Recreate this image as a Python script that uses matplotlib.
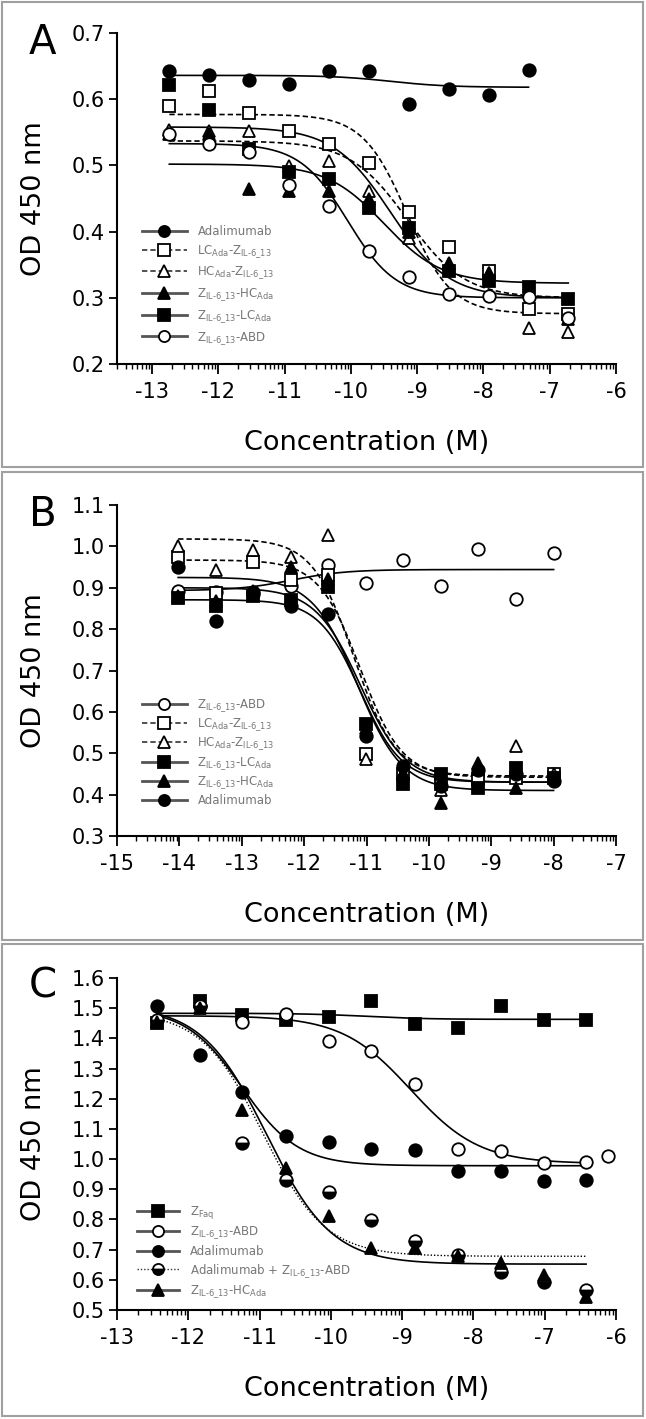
import numpy as np
import matplotlib
matplotlib.use("Agg")
import matplotlib.pyplot as plt
from matplotlib.lines import Line2D
from matplotlib.patches import Rectangle

plt.rcParams['font.family'] = ['DejaVu Sans']
plt.rcParams['axes.unicode_minus'] = False
plt.rcParams['mathtext.default'] = 'regular'

# ---------------- data (log10 concentration, OD 450 nm) ----------------
# panel A
a_x = [-12.74, -12.14, -11.54, -10.93, -10.33, -9.73, -9.13, -8.52, -7.92, -7.32, -6.72]
a_adalimumab = [0.642, 0.636, 0.629, 0.623, 0.643, 0.643, 0.593, 0.616, 0.606, 0.644]
a_lc_z = [0.589, 0.612, 0.579, 0.552, 0.532, 0.504, 0.429, 0.377, 0.341, 0.283, 0.275]
a_hc_z = [0.554, 0.552, 0.552, 0.499, 0.507, 0.462, 0.391, 0.351, 0.338, 0.255, 0.248]
a_z_hc = [0.548, 0.548, 0.465, 0.462, 0.462, 0.450, 0.400, 0.353, 0.338, 0.310, 0.268]
a_z_lc = [0.622, 0.584, 0.525, 0.490, 0.479, 0.436, 0.406, 0.341, 0.326, 0.317, 0.298]
a_z_abd = [0.547, 0.532, 0.520, 0.471, 0.438, 0.370, 0.331, 0.306, 0.303, 0.301, 0.270]
# fitted curves: top, bottom, logEC50, hill
a_fit_adalimumab = (0.636, 0.618, -9.4, 1.0)
a_fit_lc_z = (0.577, 0.276, -9.15, 1.3)
a_fit_hc_z = (0.537, 0.300, -9.15, 1.0)
a_fit_z_hc = (0.502, 0.322, -9.5, 1.0)
a_fit_z_lc = (0.558, 0.300, -9.4, 1.0)
a_fit_z_abd = (0.533, 0.300, -10.05, 1.2)

# panel B
b_x = [-14.02, -13.42, -12.82, -12.21, -11.61, -11.01, -10.41, -9.81, -9.21, -8.60, -8.00]
b_z_abd = [0.891, 0.889, 0.885, 0.905, 0.955, 0.911, 0.967, 0.905, 0.994, 0.873, 0.983]
b_lc_z = [0.974, 0.887, 0.963, 0.919, 0.930, 0.497, 0.449, 0.425, 0.437, 0.441, 0.449]
b_hc_z = [1.000, 0.943, 0.991, 0.974, 1.028, 0.485, 0.452, 0.410, 0.462, 0.517, 0.450]
b_z_lc = [0.875, 0.855, 0.881, 0.871, 0.903, 0.571, 0.425, 0.449, 0.417, 0.465, 0.441]
b_z_hc = [0.880, 0.868, 0.891, 0.951, 0.920, 0.560, 0.452, 0.380, 0.477, 0.417, 0.440]
b_adalimumab = [0.950, 0.820, 0.890, 0.857, 0.836, 0.541, 0.470, 0.420, 0.460, 0.450, 0.433]
b_fit_z_abd = (0.893, 0.944, -12.2, 1.0)
b_fit_lc_z = (0.967, 0.442, -11.1, 1.3)
b_fit_hc_z = (1.018, 0.445, -11.2, 1.3)
b_fit_z_lc = (0.871, 0.430, -11.1, 1.3)
b_fit_z_hc = (0.925, 0.410, -11.15, 1.2)
b_fit_adalimumab = (0.900, 0.430, -11.1, 1.2)

# panel C
c_x = [-12.44, -11.84, -11.24, -10.63, -10.03, -9.43, -8.82, -8.22, -7.62, -7.01, -6.42]
c_zfaq = [1.451, 1.523, 1.478, 1.462, 1.471, 1.525, 1.447, 1.434, 1.506, 1.460, 1.460]
c_z_abd_x = [-11.84, -11.24, -10.63, -10.03, -9.43, -8.82, -8.22, -7.62, -7.01, -6.42, -6.11]
c_z_abd = [1.506, 1.453, 1.482, 1.390, 1.357, 1.248, 1.033, 1.027, 0.986, 0.989, 1.011]
c_adalimumab = [1.506, 1.346, 1.221, 1.075, 1.058, 1.033, 1.031, 0.962, 0.962, 0.929, 0.931]
c_ada_abd = [1.460, 1.506, 1.053, 0.931, 0.892, 0.798, 0.727, 0.682, 0.627, 0.594, 0.566]
c_z_hc = [1.455, 1.500, 1.163, 0.970, 0.810, 0.705, 0.705, 0.680, 0.657, 0.616, 0.544]
c_fit_zfaq = (1.483, 1.463, -9.5, 1.0)
c_fit_z_abd = (1.475, 0.985, -8.88, 0.9)
c_fit_adalimumab = (1.500, 0.978, -11.25, 1.1)
c_fit_ada_abd = (1.490, 0.678, -10.95, 1.0)
c_fit_z_hc = (1.510, 0.652, -10.9, 0.95)

IL = 'IL\u20106\\_13'
lab_ada = 'Adalimumab'
lab_lc_z = 'LC$_{Ada}$-Z$_{' + IL + '}$'
lab_hc_z = 'HC$_{Ada}$-Z$_{' + IL + '}$'
lab_z_hc = 'Z$_{' + IL + '}$-HC$_{Ada}$'
lab_z_lc = 'Z$_{' + IL + '}$-LC$_{Ada}$'
lab_z_abd = 'Z$_{' + IL + '}$-ABD'
lab_zfaq = 'Z$_{Faq}$'
lab_ada_abd = 'Adalimumab + Z$_{' + IL + '}$-ABD'


def fourpl(x, top, bottom, logec50, hill):
    return bottom + (top - bottom) / (1 + 10 ** ((x - logec50) * hill))


DASH = (3.2, 1.8)
DOT = (1.0, 1.4)


def series(ax, x, y, fit, x0, x1, marker, filled, ls='-', fill_style='full'):
    xx = np.linspace(x0, x1, 300)
    kw = dict(color='black', lw=1.2)
    if ls == '--':
        kw['dashes'] = DASH
    elif ls == ':':
        kw['dashes'] = DOT
        kw['lw'] = 1.0
    ax.plot(xx, fourpl(xx, *fit), **kw)
    if fill_style == 'bottom':
        ax.plot(x, y, ls='none', marker=marker, ms=9, mec='black', mew=1.3,
                fillstyle='bottom', mfc='black', markerfacecoloralt='white', zorder=3)
    else:
        ax.plot(x, y, ls='none', marker=marker, ms=9, mec='black', mew=1.3,
                mfc='black' if filled else 'white', zorder=3)


def handle(marker, filled, ls='-', fill_style='full'):
    kw = dict(color='#555555', lw=2.0, marker=marker, ms=8, mec='black', mew=1.3)
    if ls == '--':
        kw.update(dashes=DASH, lw=1.2, color='#333333')
    elif ls == ':':
        kw.update(dashes=DOT, lw=1.0, color='#333333')
    if fill_style == 'bottom':
        kw.update(fillstyle='bottom', mfc='black', markerfacecoloralt='white')
    else:
        kw['mfc'] = 'black' if filled else 'white'
    return Line2D([], [], **kw)


def style_axes(ax, xlim, ylim, yticks, ylabels):
    ax.set_xlim(*xlim)
    ax.set_ylim(*ylim)
    for s in ['top', 'right']:
        ax.spines[s].set_visible(False)
    for s in ['left', 'bottom']:
        ax.spines[s].set_linewidth(1.5)
    major = list(range(int(np.ceil(xlim[0])), int(xlim[1]) + 1))
    minor = []
    for d in range(int(np.floor(xlim[0])), int(xlim[1])):
        for k in range(2, 10):
            v = d + np.log10(k)
            if xlim[0] < v < xlim[1]:
                minor.append(v)
    ax.set_xticks(major)
    ax.set_xticklabels([str(m) for m in major])
    ax.set_xticks(minor, minor=True)
    ax.set_yticks(yticks)
    ax.set_yticklabels(ylabels)
    ax.tick_params(axis='both', which='major', labelsize=15, width=1.3, direction='out')
    ax.tick_params(axis='x', which='major', length=7, pad=6)
    ax.tick_params(axis='y', which='major', length=6, pad=3)
    ax.tick_params(axis='x', which='minor', length=3.5, width=1.0)
    ax.set_xlabel('Concentration (M)', fontsize=19.5)
    ax.set_ylabel('OD 450 nm', fontsize=19.5)
    ax.xaxis.set_label_coords(0.5, -0.2)
    ax.yaxis.set_label_coords(-0.14, 0.5)


def gray_legend(ax, handles, labels, anchor, spacing, hlen=3.8):
    leg = ax.legend(handles, labels, loc='upper left', bbox_to_anchor=anchor,
                    frameon=False, fontsize=8.5, handlelength=hlen, handletextpad=0.9,
                    labelspacing=spacing, borderpad=0, borderaxespad=0)
    for t in leg.get_texts():
        t.set_color('#777777')


fig = plt.figure(figsize=(6.46, 14.19), dpi=100)
H = 1419.0
W = 646.0


def add_axes(top_px, bottom_px):
    return fig.add_axes([117 / W, 1 - bottom_px / H, (616 - 117) / W, (bottom_px - top_px) / H])


# ---------------- panel A ----------------
ax = add_axes(33, 364)
x1 = a_x[-1]
series(ax, a_x[:10], a_adalimumab, a_fit_adalimumab, a_x[0], a_x[9], 'o', True)
series(ax, a_x, a_lc_z, a_fit_lc_z, a_x[0], x1, 's', False, '--')
series(ax, a_x, a_hc_z, a_fit_hc_z, a_x[0], x1, '^', False, '--')
series(ax, a_x, a_z_hc, a_fit_z_hc, a_x[0], x1, '^', True)
series(ax, a_x, a_z_lc, a_fit_z_lc, a_x[0], x1, 's', True)
series(ax, a_x, a_z_abd, a_fit_z_abd, a_x[0], x1, 'o', False)
style_axes(ax, (-13.53, -6), (0.2, 0.7), np.arange(0.2, 0.71, 0.1),
           ['0.2', '0.3', '0.4', '0.5', '0.6', '0.7'])
gray_legend(ax,
            [handle('o', True), handle('s', False, '--'), handle('^', False, '--'),
             handle('^', True), handle('s', True), handle('o', False)],
            [lab_ada, lab_lc_z, lab_hc_z, lab_z_hc, lab_z_lc, lab_z_abd],
            (0.05, 0.42), 0.42)

# ---------------- panel B ----------------
ax = add_axes(505, 836)
x0, x1 = b_x[0], b_x[-1]
series(ax, b_x, b_z_abd, b_fit_z_abd, x0, x1, 'o', False)
series(ax, b_x, b_lc_z, b_fit_lc_z, x0, x1, 's', False, '--')
series(ax, b_x, b_hc_z, b_fit_hc_z, x0, x1, '^', False, '--')
series(ax, b_x, b_z_lc, b_fit_z_lc, x0, x1, 's', True)
series(ax, b_x, b_z_hc, b_fit_z_hc, x0, x1, '^', True)
series(ax, b_x, b_adalimumab, b_fit_adalimumab, x0, x1, 'o', True)
style_axes(ax, (-15, -7), (0.3, 1.1), np.arange(0.3, 1.11, 0.1),
           ['0.3', '0.4', '0.5', '0.6', '0.7', '0.8', '0.9', '1.0', '1.1'])
gray_legend(ax,
            [handle('o', False), handle('s', False, '--'), handle('^', False, '--'),
             handle('s', True), handle('^', True), handle('o', True)],
            [lab_z_abd, lab_lc_z, lab_hc_z, lab_z_lc, lab_z_hc, lab_ada],
            (0.05, 0.42), 0.22)

# ---------------- panel C ----------------
ax = add_axes(978, 1310)
x0, x1 = c_x[0], c_x[-1]
series(ax, c_x, c_zfaq, c_fit_zfaq, x0, x1, 's', True)
series(ax, c_z_abd_x, c_z_abd, c_fit_z_abd, x0, x1, 'o', False)
series(ax, c_x, c_adalimumab, c_fit_adalimumab, x0, x1, 'o', True)
series(ax, c_x, c_ada_abd, c_fit_ada_abd, x0, x1, 'o', True, ':', 'bottom')
series(ax, c_x, c_z_hc, c_fit_z_hc, x0, x1, '^', True)
style_axes(ax, (-13, -6), (0.5, 1.6), np.arange(0.5, 1.61, 0.1),
           ['0.5', '0.6', '0.7', '0.8', '0.9', '1.0', '1.1', '1.2', '1.3', '1.4', '1.5', '1.6'])
gray_legend(ax,
            [handle('s', True), handle('o', False), handle('o', True),
             handle('o', True, ':', 'bottom'), handle('^', True)],
            [lab_zfaq, lab_z_abd, lab_ada, lab_ada_abd, lab_z_hc],
            (0.04, 0.32), 0.32, 3.6)

# panel letters and frames
for letter, top in [('A', 23), ('B', 495), ('C', 966)]:
    fig.text(29 / W, 1 - top / H, letter, fontsize=29, va='top', ha='left')
for top, bottom in [(2, 467), (472, 940), (944, 1416)]:
    fig.add_artist(Rectangle((2 / W, 1 - bottom / H), 641 / W, (bottom - top) / H,
                             transform=fig.transFigure, fill=False, ec='#a0a0a0', lw=1.5))

fig.savefig('out.png', dpi=100)
